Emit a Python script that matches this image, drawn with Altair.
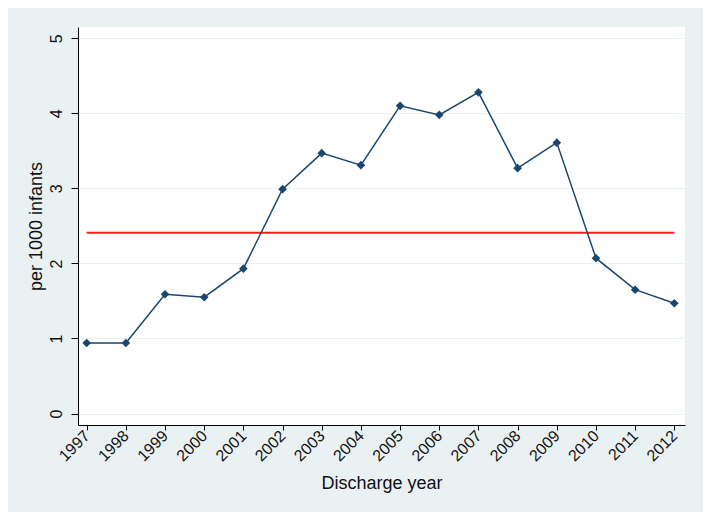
import altair as alt
import pandas as pd

years = list(range(1997, 2013))
rates = [0.94, 0.94, 1.59, 1.55, 1.93, 2.99, 3.47, 3.31, 4.10, 3.98, 4.28, 3.27, 3.61, 2.07, 1.65, 1.47]
mean_rate = 2.41
y_ticks = [0, 1, 2, 3, 4, 5]

df = pd.DataFrame({"year": years, "rate": rates})
ref = pd.DataFrame({"x": [years[0]], "x2": [years[-1]], "y": [mean_rate]})

navy = "#1A476F"
font = "Liberation Sans"

x_scale = alt.Scale(domain=[1996.778, 2012.273], nice=False, zero=False)
y_scale = alt.Scale(domain=[-0.153, 5.151], nice=False, zero=False)

x_axis = alt.Axis(
    values=years, format="d", title="Discharge year", labelAngle=-45,
    labelAlign="right", labelBaseline="middle", labelFontSize=16, titleFontSize=18,
    tickSize=5, tickColor="black", domainColor="black", labelColor="#111",
    titleColor="#111", grid=False, labelPadding=3, titlePadding=11, labelFlush=False,
    titleFontWeight="normal", labelOverlap=False
)
y_axis = alt.Axis(
    values=y_ticks, format="d", title="per 1000 infants", labelAngle=270, labelAlign="center",
    labelBaseline="bottom", labelFontSize=16, titleFontSize=18, tickSize=7,
    tickColor="black", domainColor="black", labelColor="#111", titleColor="#111",
    grid=True, gridColor="#EAF2F3", gridWidth=1.2, labelPadding=7, titlePadding=3,
    titleFontWeight="normal"
)

line = alt.Chart(df).mark_line(color=navy, strokeWidth=1.5).encode(
    x=alt.X("year:Q", scale=x_scale, axis=x_axis),
    y=alt.Y("rate:Q", scale=y_scale, axis=y_axis),
)
pts = alt.Chart(df).mark_point(shape="diamond", filled=True, color=navy, size=75, opacity=1).encode(
    x=alt.X("year:Q", scale=x_scale),
    y=alt.Y("rate:Q", scale=y_scale),
)
rule = alt.Chart(ref).mark_rule(color="#FF1A1A", strokeWidth=2).encode(
    x=alt.X("x:Q", scale=x_scale),
    x2="x2:Q",
    y=alt.Y("y:Q", scale=y_scale),
)

chart = alt.layer(rule, line, pts).properties(
    width=607, height=398,
    autosize=alt.AutoSizeParams(type="none"),
    padding={"left": 70, "top": 19, "right": 18, "bottom": 87},
    background="#EAF1F3",
).configure_view(fill="white", strokeWidth=0).configure_axis(
    labelFont=font, titleFont=font
)

chart.save("out.html", embed_options={"renderer": "svg", "actions": False})
